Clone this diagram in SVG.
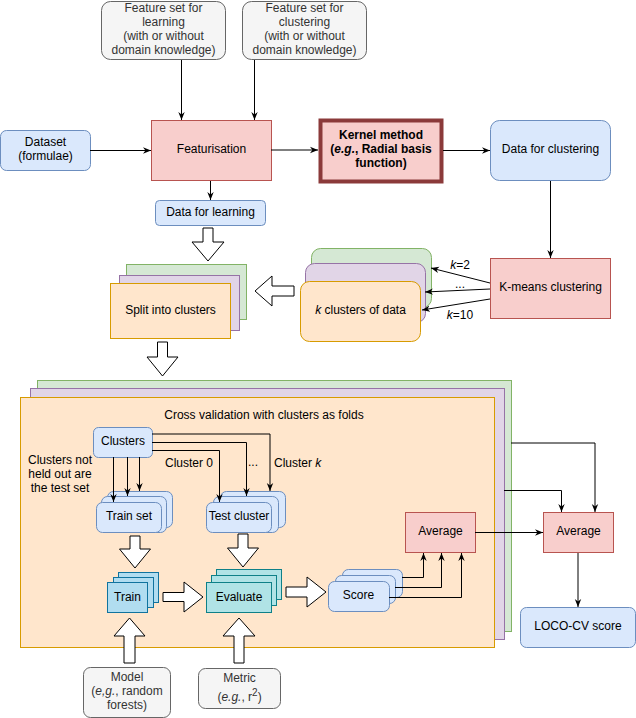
<svg xmlns="http://www.w3.org/2000/svg" width="636" height="718" viewBox="0 0 636 718">
<defs>
<marker id="ah" viewBox="0 0 10 10" refX="10" refY="5" markerWidth="8" markerHeight="8" orient="auto" markerUnits="userSpaceOnUse"><path d="M0,1 L10,5 L0,9 L3,5 z" fill="#000"/></marker>
<style>
text{font-family:"Liberation Sans",Arial,sans-serif;font-size:12px;fill:#000;text-anchor:middle;dominant-baseline:central}
.gry{fill:#f5f5f5;stroke:#666666}
.gt{fill:#333333}
.blu{fill:#dae8fc;stroke:#6c8ebf}
.pnk{fill:#f8cecc;stroke:#b85450}
.grn{fill:#d5e8d4;stroke:#82b366}
.pur{fill:#e1d5e7;stroke:#9673a6}
.org{fill:#ffe6cc;stroke:#d79b00}
.trn{fill:#b1ddf0;stroke:#10739e}
.evl{fill:#b0e3e6;stroke:#0e8088}
.ba{fill:#fff;stroke:#000;stroke-width:1}
.ln{fill:none;stroke:#000;stroke-width:1;marker-end:url(#ah)}
</style>
</defs>
<rect width="636" height="718" fill="#fff"/>

<g id="cv-stack">
<rect x="37.5" y="380.5" width="474" height="251" class="grn"/>
<rect x="30.5" y="388.5" width="474" height="251" class="pur"/>
<rect x="20.5" y="397.5" width="474" height="250" class="org"/>
<text x="264" y="415">Cross validation with clusters as folds</text>
<text x="60" y="460">Clusters not</text>
<text x="60" y="474">held out are</text>
<text x="60" y="488">the test set</text>
<text x="189" y="463">Cluster 0</text>
<text x="253" y="462">...</text>
<text x="274" y="463" style="text-anchor:start">Cluster <tspan font-style="italic">k</tspan></text>
</g>

<g id="feat-learn">
<rect x="101.5" y="1.5" width="124" height="58" rx="9" class="gry"/>
<text x="163.5" y="8" class="gt">Feature set for</text>
<text x="163.5" y="22" class="gt">learning</text>
<text x="163.5" y="36" class="gt">(with or without</text>
<text x="163.5" y="50" class="gt">domain knowledge)</text>
</g>
<g id="feat-cluster">
<rect x="242.5" y="1.5" width="124" height="58" rx="9" class="gry"/>
<text x="304.5" y="8" class="gt">Feature set for</text>
<text x="304.5" y="22" class="gt">clustering</text>
<text x="304.5" y="36" class="gt">(with or without</text>
<text x="304.5" y="50" class="gt">domain knowledge)</text>
</g>
<g id="dataset">
<rect x="0.5" y="130.5" width="90" height="40" rx="6" class="blu"/>
<text x="45.5" y="142">Dataset</text>
<text x="45.5" y="156">(formulae)</text>
</g>
<g id="featurisation">
<rect x="151.5" y="120.5" width="120" height="60" class="pnk"/>
<text x="211.5" y="149">Featurisation</text>
</g>
<g id="kernel">
<rect x="320.5" y="120.5" width="121" height="61" fill="#f8cecc" stroke="#8b3a3a" stroke-width="4"/>
<text x="381" y="135" font-weight="bold">Kernel method</text>
<text x="381" y="149" font-weight="bold">(<tspan font-style="italic">e.g.</tspan>, Radial basis</text>
<text x="381" y="163" font-weight="bold">function)</text>
</g>
<g id="data-clustering">
<rect x="490.5" y="120.5" width="120" height="60" rx="9" class="blu"/>
<text x="550.5" y="149">Data for clustering</text>
</g>
<g id="data-learning">
<rect x="155.5" y="200.5" width="110" height="25" rx="4" class="blu"/>
<text x="210.5" y="212">Data for learning</text>
</g>
<g id="kmeans">
<rect x="490.5" y="258.5" width="120" height="60" class="pnk"/>
<text x="550.5" y="287">K-means clustering</text>
</g>
<g id="k-clusters">
<rect x="311.5" y="248.5" width="120" height="59" rx="9" class="grn"/>
<rect x="305.5" y="263.5" width="120" height="59" rx="9" class="pur"/>
<rect x="300.5" y="281.5" width="120" height="60" rx="9" class="org"/>
<text x="360.5" y="310"><tspan font-style="italic">k</tspan> clusters of data</text>
</g>
<g id="split">
<rect x="126.5" y="264.5" width="120" height="55" class="grn"/>
<rect x="119.5" y="275.5" width="120" height="55" class="pur"/>
<rect x="110.5" y="283.5" width="120" height="55" class="org"/>
<text x="170.5" y="310">Split into clusters</text>
</g>
<g id="clusters">
<rect x="93.5" y="427.5" width="59" height="30" rx="5" class="blu"/>
<text x="123" y="441">Clusters</text>
</g>
<g id="train-set">
<rect x="107.5" y="491.5" width="65" height="36" rx="6" class="blu"/>
<rect x="101.5" y="496.5" width="65" height="36" rx="6" class="blu"/>
<rect x="96.5" y="502.5" width="65" height="30" rx="6" class="blu"/>
<text x="129" y="516">Train set</text>
</g>
<g id="test-cluster">
<rect x="220.5" y="491.5" width="65" height="36" rx="6" class="blu"/>
<rect x="213.5" y="496.5" width="65" height="36" rx="6" class="blu"/>
<rect x="206.5" y="502.5" width="65" height="30" rx="6" class="blu"/>
<text x="239" y="516">Test cluster</text>
</g>
<g id="train">
<rect x="118.5" y="572.5" width="40" height="30" class="trn"/>
<rect x="113.5" y="577.5" width="40" height="30" class="trn"/>
<rect x="107.5" y="582.5" width="40" height="30" class="trn"/>
<text x="127.5" y="597">Train</text>
</g>
<g id="evaluate">
<rect x="216.5" y="569.5" width="65" height="30" class="evl"/>
<rect x="211.5" y="575.5" width="65" height="30" class="evl"/>
<rect x="206.5" y="582.5" width="65" height="30" class="evl"/>
<text x="239" y="597">Evaluate</text>
</g>
<g id="score">
<rect x="342.5" y="569.5" width="60" height="28" rx="6" class="blu"/>
<rect x="335.5" y="575.5" width="60" height="28" rx="6" class="blu"/>
<rect x="328.5" y="581.5" width="61" height="30" rx="6" class="blu"/>
<text x="358.5" y="595">Score</text>
</g>
<g id="avg-inner">
<rect x="405.5" y="512.5" width="70" height="40" class="pnk"/>
<text x="440.5" y="531">Average</text>
</g>
<g id="avg-outer">
<rect x="543.5" y="512.5" width="70" height="40" class="pnk"/>
<text x="578.5" y="531">Average</text>
</g>
<g id="loco">
<rect x="520.5" y="607.5" width="115" height="40" rx="6" class="blu"/>
<text x="578" y="626">LOCO-CV score</text>
</g>
<g id="model">
<rect x="83.5" y="667.5" width="87" height="50" rx="7" class="gry"/>
<text x="127" y="677" class="gt">Model</text>
<text x="127" y="691" class="gt">(<tspan font-style="italic">e,g.</tspan>, random</text>
<text x="127" y="705" class="gt">forests)</text>
</g>
<g id="metric">
<rect x="198.5" y="668.5" width="82" height="40" rx="7" class="gry"/>
<text x="239.5" y="678" class="gt">Metric</text>
<text x="239.5" y="697" class="gt">(<tspan font-style="italic">e.g.</tspan>, r<tspan font-size="10" dy="-5">2</tspan><tspan dy="5">)</tspan></text>
</g>

<g id="connectors">
<path d="M181.5,60 V120" class="ln"/>
<path d="M254.5,60 V120" class="ln"/>
<path d="M90,150.5 H151" class="ln"/>
<path d="M271,150 H318" class="ln"/>
<path d="M443,150.5 H490" class="ln"/>
<path d="M210.5,181 V200" class="ln"/>
<path d="M550.5,181 V258" class="ln"/>
<path d="M490,283 L431,268" class="ln"/>
<path d="M490,289 L425,292" class="ln"/>
<path d="M490,299 L422,310" class="ln"/>
<text x="460" y="265"><tspan font-style="italic">k</tspan>=2</text>
<text x="460" y="284">...</text>
<text x="460" y="315"><tspan font-style="italic">k</tspan>=10</text>
<path d="M113.5,457 V502" class="ln"/>
<path d="M127.5,457 V496" class="ln"/>
<path d="M139.5,457 V491" class="ln"/>
<path d="M152,434 H270 V491" class="ln"/>
<path d="M152,442.5 H246.5 V496" class="ln"/>
<path d="M152,450.5 H219.5 V502" class="ln"/>
<path d="M402,577.5 H423.5 V553" class="ln"/>
<path d="M395,587.5 H441.5 V553" class="ln"/>
<path d="M389,597.5 H461.5 V553" class="ln"/>
<path d="M475,532.5 H543" class="ln"/>
<path d="M511,443 H595 V512" class="ln"/>
<path d="M504,490.5 H561.5 V512" class="ln"/>
<path d="M578,553 V607" class="ln"/>
<polygon class="ba" points="203,228 213,228 213,242 224,242 208,261 192,242 203,242"/>
<polygon class="ba" points="157.5,342 167.5,342 167.5,357 178,357 162.5,376 147,357 157.5,357"/>
<polygon class="ba" points="294,286 294,296 272,296 272,306 255,291 272,276 272,286"/>
<polygon class="ba" points="130,536 140,536 140,549 150.5,549 135,568 119.5,549 130,549"/>
<polygon class="ba" points="238,534 248,534 248,548 258.5,548 243,567 227.5,548 238,548"/>
<polygon class="ba" points="163,592.5 184,592.5 184,582 203,597 184,612 184,601.5 163,601.5"/>
<polygon class="ba" points="286,587 307,587 307,577 326,592 307,607 307,597 286,597"/>
<polygon class="ba" points="124,663 135,663 135,636 145,636 129.5,618 114,636 124,636"/>
<polygon class="ba" points="234,663 244,663 244,636 255,636 239,618 223,636 234,636"/>
</g>
</svg>
